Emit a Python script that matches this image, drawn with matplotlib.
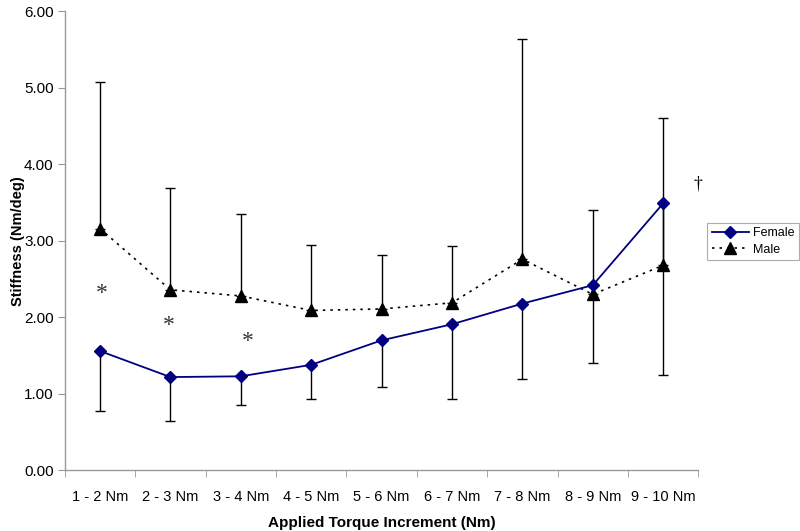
import matplotlib
matplotlib.use("Agg")
import matplotlib.pyplot as plt
import numpy as np

plt.rcParams['font.family'] = ['Liberation Sans', 'DejaVu Sans']

categories = ["1 - 2 Nm", "2 - 3 Nm", "3 - 4 Nm", "4 - 5 Nm", "5 - 6 Nm",
              "6 - 7 Nm", "7 - 8 Nm", "8 - 9 Nm", "9 - 10 Nm"]
female = [1.56, 1.22, 1.23, 1.38, 1.70, 1.91, 2.18, 2.42, 3.49]
female_lower = [0.78, 0.65, 0.86, 0.93, 1.09, 0.94, 1.20, 1.40, 1.25]
male = [3.16, 2.36, 2.28, 2.09, 2.11, 2.19, 2.76, 2.30, 2.68]
male_upper = [5.08, 3.69, 3.35, 2.95, 2.81, 2.93, 5.63, 3.40, 4.61]
yticks = [0, 1, 2, 3, 4, 5, 6]
star_x = [0.03, 0.97, 2.1]
star_y = [2.31, 1.89, 1.68]
dagger_x = 8.5
dagger_y = 3.74

x = np.arange(len(categories))
fem = np.array(female)
mal = np.array(male)

fig = plt.figure(figsize=(8, 5.31), dpi=100)
ax = fig.add_axes([0.081, 0.114, 0.792, 0.865])

# error bars
ax.errorbar(x, fem, yerr=[fem - np.array(female_lower), np.zeros_like(fem)],
            fmt='none', ecolor='black', elinewidth=1.0, capsize=3.5, capthick=1.0, zorder=2)
ax.errorbar(x, mal, yerr=[np.zeros_like(mal), np.array(male_upper) - mal],
            fmt='none', ecolor='black', elinewidth=1.0, capsize=3.5, capthick=1.0, zorder=2)

ax.plot(x, male, linestyle=(0, (1.5, 3)), color='black', linewidth=1.2,
        marker='^', markersize=8, markerfacecolor='black', markeredgecolor='black',
        label='Male', zorder=3)
ax.plot(x, female, linestyle='-', color='#000080', linewidth=1.3,
        marker='D', markersize=6.5, markerfacecolor='#000080', markeredgecolor='#000080',
        label='Female', zorder=4)

for sx, sy in zip(star_x, star_y):
    ax.text(sx, sy, '*', fontsize=17, family=['Liberation Serif', 'DejaVu Serif'],
            ha='center', va='center', color='#333333')
ax.text(dagger_x, dagger_y, '†', fontsize=13, family=['Liberation Serif', 'DejaVu Serif'],
        ha='center', va='center', color='black')

ax.set_xlim(-0.5, len(categories) - 0.5)
ax.set_ylim(0, 6)
ax.set_yticks(yticks)
ax.set_yticklabels([f"{v:.2f}" for v in yticks], fontsize=11)
ax.set_xticks(x)
ax.set_xticklabels(categories, fontsize=10.5)
ax.set_xticks(np.arange(-0.5, len(categories)), minor=True)
ax.tick_params(axis='x', which='major', length=0, pad=14)
ax.tick_params(axis='x', which='minor', length=5, color='#999999', direction='out')
ax.tick_params(axis='y', length=5, color='#999999', direction='out', pad=3)

for s in ['top', 'right']:
    ax.spines[s].set_visible(False)
for s in ['left', 'bottom']:
    ax.spines[s].set_color('#999999')
    ax.spines[s].set_linewidth(1.0)

ax.set_xlabel('Applied Torque Increment (Nm)', fontsize=11, fontweight='bold', labelpad=9)
ax.set_ylabel('Stiffness (Nm/deg)', fontsize=10.5, fontweight='bold', va='center')
ax.yaxis.set_label_coords(-0.074, 0.5)

handles, labels = ax.get_legend_handles_labels()
leg = fig.legend(handles[::-1], labels[::-1], loc='upper left',
                 bbox_to_anchor=(0.884, 0.580), fontsize=9, frameon=True,
                 fancybox=False, edgecolor='#999999', numpoints=1,
                 handlelength=3.0, borderpad=0.35, labelspacing=0.35, handletextpad=0.3,
                 borderaxespad=0.0)
leg.get_frame().set_linewidth(0.8)

fig.savefig('out.png', dpi=100)
